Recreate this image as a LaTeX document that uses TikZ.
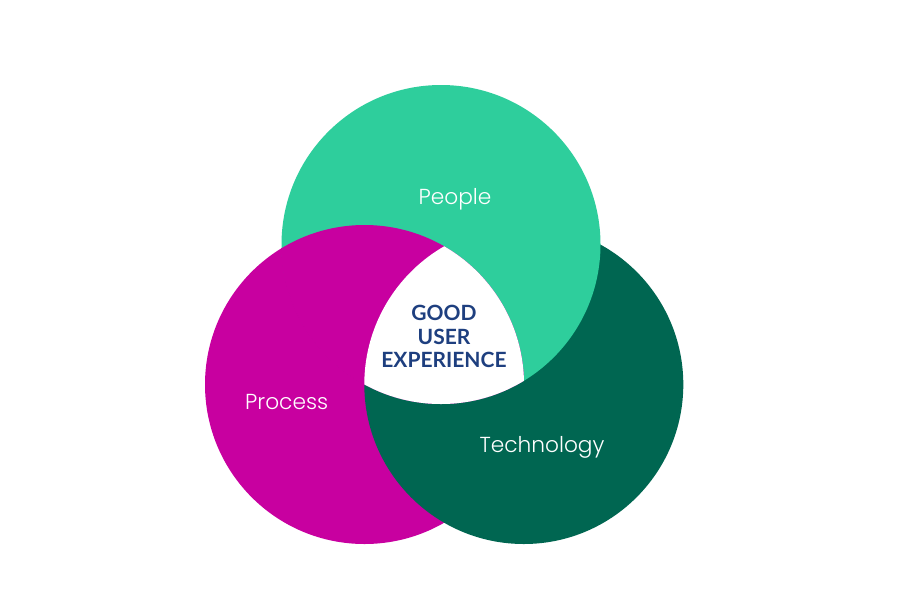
\documentclass[tikz,border=0pt]{standalone}
\usepackage{fontspec}
\setmainfont{Poppins}
\newfontfamily\labelfont{Poppins Light}
\newfontfamily\centerfont{Lato Bold}
\definecolor{peoplegreen}{HTML}{2ECE9C}
\definecolor{processmag}{HTML}{C800A0}
\definecolor{techgreen}{HTML}{006651}
\definecolor{uxblue}{HTML}{1E3F7F}
\tikzset{
  lbl/.style={text=white, font=\labelfont\fontsize{21.7}{26}\selectfont, inner sep=0pt, anchor=base},
  ux/.style={text=uxblue, font=\centerfont\fontsize{21}{23.6}\selectfont, align=center, inner sep=0pt}
}
\begin{document}
\begin{tikzpicture}[x=1pt,y=-1pt]
\fill[white] (0,0) rectangle (901,592);
\useasboundingbox (0,0) rectangle (901,592);
\def\R{159.5}
\coordinate (cpeople) at (441,244.5);
\coordinate (cprocess) at (364.5,384.5);
\coordinate (ctech) at (523.8,384.5);
% base layers
\fill[processmag] (cprocess) circle[radius=\R];
\fill[techgreen] (ctech) circle[radius=\R];
\fill[peoplegreen] (cpeople) circle[radius=\R];
% process over people
\begin{scope}
  \clip (cpeople) circle[radius=\R];
  \fill[processmag] (cprocess) circle[radius=\R];
\end{scope}
% cover the anti-aliasing seam along the people edge inside process
\begin{scope}
  \clip (cprocess) circle[radius=\R];
  \begin{scope}[even odd rule]
    \clip (0,0) rectangle (901,592) (ctech) circle[radius=\R];
    \draw[processmag, line width=1.2pt] (cpeople) circle[radius=\R];
  \end{scope}
\end{scope}
% white triple intersection
\begin{scope}
  \clip (cpeople) circle[radius=\R];
  \clip (cprocess) circle[radius=\R];
  \fill[white] (ctech) circle[radius=\R];
\end{scope}
\node[lbl] (people) at (455,204) {People};
\node[lbl] (process) at (286.7,409.3) {Process};
\node[lbl] (tech) at (542,452.3) {Technology};
\node[ux] (goodux) at (444,336.5) {GOOD\\USER\\EXPERIENCE};
\end{tikzpicture}
\end{document}
